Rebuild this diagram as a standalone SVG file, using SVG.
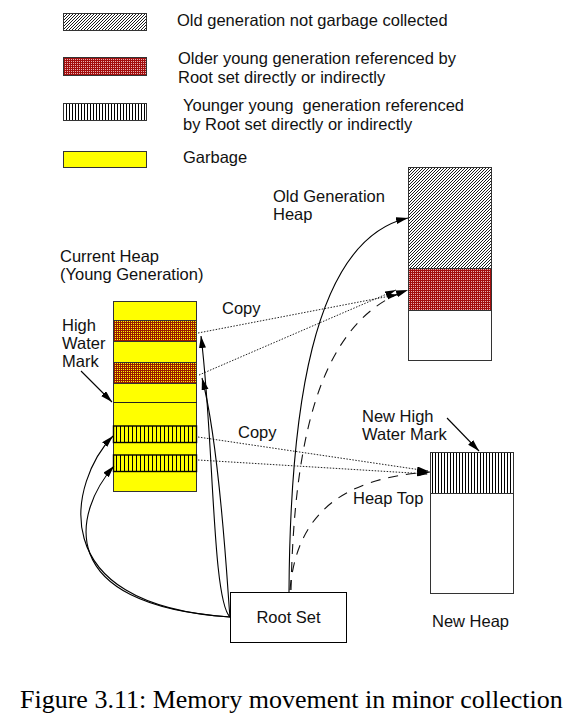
<svg xmlns="http://www.w3.org/2000/svg" width="577" height="720" viewBox="0 0 577 720">
<style>
text{font-family:"Liberation Sans",Arial,sans-serif;font-size:16.5px;fill:#111}
.cap{font-family:"Liberation Serif","Times New Roman",serif;font-size:26px;fill:#000}
.box{stroke:#333;stroke-width:1}
.sep{stroke:#222;stroke-width:1.2;fill:none}
.solid{fill:none;stroke:#000;stroke-width:1.1}
.dot{fill:none;stroke:#222;stroke-width:1;stroke-dasharray:1.5 1.5}
.dash{fill:none;stroke:#111;stroke-width:1.1;stroke-dasharray:10 8}
</style>
<defs>
<pattern id="hatch" patternUnits="userSpaceOnUse" width="3" height="3">
<rect width="3" height="3" fill="#fff"/>
<path d="M-1,1 l2,-2 M0,3 l3,-3 M2,4 l2,-2" stroke="#000" stroke-width="0.9"/>
</pattern>
<pattern id="redW" patternUnits="userSpaceOnUse" width="2" height="2">
<rect width="2" height="2" fill="#a30d0d"/>
<rect x="1" y="1" width="1" height="1" fill="#e8b0b0"/>
</pattern>
<pattern id="redY" patternUnits="userSpaceOnUse" width="2" height="2">
<rect width="2" height="2" fill="#9a1a00"/>
<rect x="1" y="1" width="1" height="1" fill="#ffff00"/>
</pattern>
<pattern id="stripeW" patternUnits="userSpaceOnUse" width="3" height="10">
<rect width="3" height="10" fill="#fff"/>
<rect width="1" height="10" fill="#000"/>
</pattern>
<pattern id="stripeY" patternUnits="userSpaceOnUse" width="4" height="10">
<rect width="4" height="10" fill="#ffff00"/>
<rect width="1" height="10" fill="#000"/>
</pattern>
<marker id="arr" markerUnits="userSpaceOnUse" markerWidth="12" markerHeight="8" refX="12" refY="3.5" orient="auto">
<path d="M0,0 L12,3.5 L0,7 z" fill="#000" stroke="none"/>
</marker>
<marker id="arrS" markerUnits="userSpaceOnUse" markerWidth="11" markerHeight="8" refX="11" refY="3" orient="auto">
<path d="M0,0 L11,3 L0,6 z" fill="#000" stroke="none"/>
</marker>
</defs>

<g id="legend">
<rect x="63.5" y="13.5" width="83" height="17" fill="url(#hatch)" class="box"/>
<text x="177" y="26">Old generation not garbage collected</text>
<rect x="63.5" y="57.5" width="83" height="18" fill="url(#redW)" class="box"/>
<text x="178" y="64">Older young generation referenced by</text>
<text x="178" y="82.5">Root set directly or indirectly</text>
<rect x="63.5" y="103.5" width="83" height="17" fill="url(#stripeW)" class="box"/>
<text x="183" y="111" style="white-space:pre">Younger young  generation referenced</text>
<text x="183" y="130">by Root set directly or indirectly</text>
<rect x="63.5" y="151.5" width="83" height="16" fill="#ffff00" class="box"/>
<text x="183" y="163">Garbage</text>
</g>

<g id="current-heap">
<rect x="113.5" y="301.5" width="83" height="190" fill="#ffff00" class="box"/>
<rect x="113.5" y="320.5" width="83" height="21" fill="url(#redY)" class="box"/>
<rect x="113.5" y="362.5" width="83" height="21" fill="url(#redY)" class="box"/>
<line x1="113" y1="402.5" x2="197" y2="402.5" class="sep"/>
<rect x="113.5" y="426" width="83" height="16.5" fill="url(#stripeY)" stroke="#000" stroke-width="1.4"/>
<rect x="113.5" y="455" width="83" height="16.5" fill="url(#stripeY)" stroke="#000" stroke-width="1.4"/>
<text x="60" y="262">Current Heap</text>
<text x="60" y="280">(Young Generation)</text>
<text x="62" y="331">High</text>
<text x="62" y="349">Water</text>
<text x="62" y="367">Mark</text>
</g>

<g id="old-gen-heap">
<rect x="408.5" y="167.5" width="83" height="101" fill="url(#hatch)" class="box"/>
<rect x="408.5" y="268.5" width="83" height="42" fill="url(#redW)" class="box"/>
<rect x="408.5" y="310.5" width="83" height="50" fill="#fff" class="box"/>
<text x="273" y="202">Old Generation</text>
<text x="273" y="220">Heap</text>
</g>

<g id="new-heap">
<rect x="430.5" y="452.5" width="83" height="41" fill="url(#stripeW)" class="box"/>
<rect x="430.5" y="493.5" width="83" height="100" fill="#fff" class="box"/>
<text x="362" y="422">New High</text>
<text x="362" y="440">Water Mark</text>
<text x="353" y="504">Heap Top</text>
<text x="432" y="627">New Heap</text>
</g>

<g id="root-set">
<rect x="230.5" y="592.5" width="116" height="50" fill="#fff" stroke="#000" stroke-width="1"/>
<text x="288.5" y="623" text-anchor="middle">Root Set</text>
</g>

<g id="labels">
<text x="222" y="314">Copy</text>
<text x="238" y="438">Copy</text>
</g>

<g id="connectors">
<line x1="81" y1="371" x2="112" y2="402" class="solid" marker-end="url(#arr)"/>
<line x1="447" y1="418" x2="479" y2="451" class="solid" marker-end="url(#arr)"/>
<path d="M289,592 C290,420 310,240 408,218" class="solid" marker-end="url(#arr)"/>
<path d="M291,590 C294,455 314,322 408,290" class="dash" marker-end="url(#arr)"/>
<path d="M290,590 C296,520 335,478 430,472" class="dash" marker-end="url(#arr)"/>
<line x1="198" y1="333" x2="398" y2="294.5" class="dot" marker-end="url(#arrS)"/>
<line x1="199" y1="375" x2="396" y2="290" class="dot" marker-end="url(#arrS)"/>
<line x1="198" y1="437" x2="428" y2="471" class="dot" marker-end="url(#arrS)"/>
<line x1="198" y1="460" x2="428" y2="474" class="dot" marker-end="url(#arrS)"/>
<path d="M230,617 C212,600 214,440 201,336" class="solid" marker-end="url(#arr)"/>
<path d="M230,617 C228,600 221,450 202,378" class="solid" marker-end="url(#arr)"/>
<path d="M230,617 C40,605 70,480 113,436" class="solid" marker-end="url(#arr)"/>
<path d="M230,617 C50,605 75,510 114,466" class="solid" marker-end="url(#arr)"/>
</g>

<text class="cap" x="20" y="708">Figure 3.11: Memory movement in minor collection</text>
</svg>
